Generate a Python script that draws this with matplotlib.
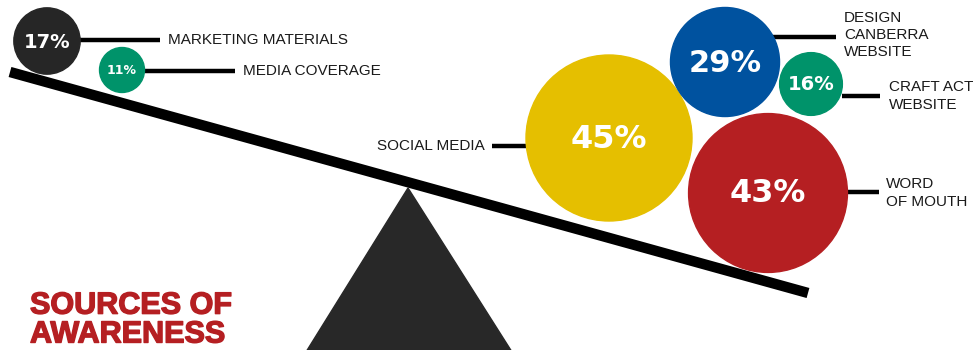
import matplotlib.pyplot as plt
import matplotlib.patheffects as pe
from matplotlib.patches import Circle, Polygon

# data
sources = ['MARKETING MATERIALS', 'MEDIA COVERAGE', 'SOCIAL MEDIA',
           'DESIGN\nCANBERRA\nWEBSITE', 'CRAFT ACT\nWEBSITE', 'WORD\nOF MOUTH']
shares = [17, 11, 45, 29, 16, 43]
colors = ['#262626', '#00936a', '#e5bf00', '#00529f', '#00936a', '#b51f22']
title = 'SOURCES OF\nAWARENESS'

# layout (pixel space of the infographic)
centers = [(47, 41), (122, 70), (609, 138), (725, 62), (811, 84), (768, 193)]
# label anchor: (line_x0, line_x1, line_y, text_x, text_y, ha)
label_pos = [(78, 160, 40, 168, 40, 'left'),
             (145, 235, 71, 243, 71, 'left'),
             (527, 492, 146, 485, 146, 'right'),
             (770, 836, 37, 844, 35, 'left'),
             (842, 880, 96, 889, 96, 'left'),
             (846, 879, 192, 886, 193, 'left')]
pct_size = [14, 9, 23, 22, 14, 23]

W, H = 973, 350
fig = plt.figure(figsize=(W / 100, H / 100), dpi=100)
ax = fig.add_axes([0, 0, 1, 1])
ax.set_xlim(0, W)
ax.set_ylim(H, 0)
ax.axis('off')

# fulcrum and beam
ax.add_patch(Polygon([(408, 188), (306, 352), (512, 352)], closed=True,
                     color='#282828', zorder=1))
ax.plot([10, 808], [72, 293], color='black', lw=7.5, solid_capstyle='butt', zorder=2)

def radius(v):
    return 2.9 + 1.78 * v

for name, v, c, fs, (cx, cy), (lx0, lx1, ly, tx, ty, ha) in zip(
        sources, shares, colors, pct_size, centers, label_pos):
    r = radius(v)
    ax.plot([lx0, lx1], [ly, ly], color='black', lw=3.2, solid_capstyle='butt', zorder=3)
    ax.add_patch(Circle((cx, cy), r, color=c, zorder=4))
    ax.text(cx, cy + 1, f'{v}%', color='white', fontsize=fs, fontweight='bold',
            ha='center', va='center', family='DejaVu Sans', zorder=5)
    ax.text(tx, ty, name, ha=ha, va='center', fontsize=11,
            family='Liberation Sans', linespacing=1.3, color='#1a1a1a', zorder=5)

ax.text(30, 349.5, title, color='#b51f22', fontsize=22, fontweight='bold',
        family='Liberation Sans', ha='left', va='bottom', linespacing=0.95,
        path_effects=[pe.withStroke(linewidth=1.0, foreground='#b51f22')])
fig.savefig('out.png', dpi=100)
